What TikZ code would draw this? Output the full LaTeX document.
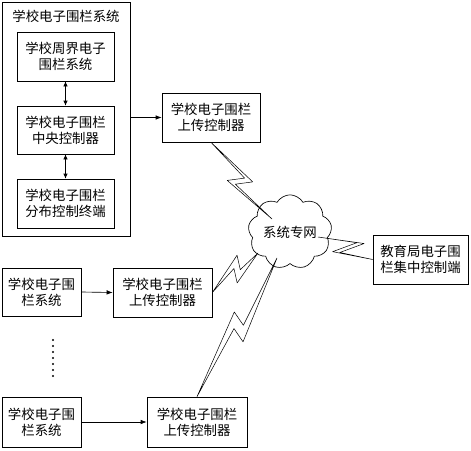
\documentclass[tikz,border=0pt]{standalone}
\usepackage{fontspec}
\setmainfont{Noto Sans CJK SC}
\usetikzlibrary{shapes.symbols,calc,arrows.meta}
\tikzset{
  lbl/.style={font=\fontsize{13.4pt}{16pt}\selectfont, align=center, inner sep=0pt},
  box/.style={lbl, draw, line width=0.65pt},
  arr/.style={line width=0.65pt, -{Latex[length=6pt,width=4.5pt]}},
  darr/.style={line width=0.65pt, {Latex[length=5pt,width=4.5pt]}-{Latex[length=5pt,width=4.5pt]}},
  boltst/.style={draw, line width=0.5pt, line join=round},
}
% lightning connector: #1 start, #2 end, A=(#3,#4), B=(#5,#6), shift (#7,#8)
\newcommand\zbolt[8]{%
  \draw[boltst] let \p1=(#1), \p2=(#2), \p3=($(#2)-(#1)$), \n1={veclen(\x3,\y3)} in
    (\p1)
    -- ({\x1+(#3)*\x3/\n1-(#4)*\y3/\n1},{\y1+(#3)*\y3/\n1+(#4)*\x3/\n1})
    -- ({\x1+(#5)*\x3/\n1-(#6)*\y3/\n1},{\y1+(#5)*\y3/\n1+(#6)*\x3/\n1})
    -- (\p2)
    -- ({\x1+((#5)+(#7))*\x3/\n1-((#6)+(#8))*\y3/\n1},{\y1+((#5)+(#7))*\y3/\n1+((#6)+(#8))*\x3/\n1})
    -- ({\x1+((#3)+(#7))*\x3/\n1-((#4)+(#8))*\y3/\n1},{\y1+((#3)+(#7))*\y3/\n1+((#4)+(#8))*\x3/\n1})
    -- cycle;}
\begin{document}
\begin{tikzpicture}[x=1pt,y=-1pt]
\useasboundingbox (0,0) rectangle (471,450);
% school system (outer)
\node[box, minimum width=128pt, minimum height=234pt] (outer) at (66,119) {};
\node[lbl] (title) at (66,16) {学校电子围栏系统};
\node[box, minimum width=97pt, minimum height=49pt] (in1) at (65.5,56.5) {学校周界电子\\围栏系统};
\node[box, minimum width=97pt, minimum height=48pt] (in2) at (65.5,130) {学校电子围栏\\中央控制器};
\node[box, minimum width=97pt, minimum height=49pt] (in3) at (65.5,203.5) {学校电子围栏\\分布控制终端};
\node[box, minimum width=98pt, minimum height=49pt] (up1) at (211,117.5) {学校电子围栏\\上传控制器};
% network
\node[lbl, cloud, draw, line width=0.65pt, cloud puffs=9, cloud puff arc=120, aspect=1.2,
      minimum width=78pt, minimum height=64pt] (net) at (290,232) {系统专网};
\node[box, minimum width=95pt, minimum height=49pt] (edu) at (420.5,259.5) {教育局电子围\\栏集中控制端};
% other schools
\node[box, minimum width=79pt, minimum height=48pt] (sysA) at (41.5,292) {学校电子围\\栏系统};
\node[box, minimum width=99pt, minimum height=49pt] (up2) at (162.5,292.5) {学校电子围栏\\上传控制器};
\node[box, minimum width=79pt, minimum height=50pt] (sysB) at (41.5,422) {学校电子围\\栏系统};
\node[box, minimum width=100pt, minimum height=50pt] (up3) at (197,422) {学校电子围栏\\上传控制器};
\foreach \k in {0,...,6} \fill (53,{340+6*\k}) circle (1.1pt);
% arrows
\draw[darr] (in1.south) -- (in2.north);
\draw[darr] (in2.south) -- (in3.north);
\draw[arr] (up1.west -| outer.east) -- (up1.west);
\draw[arr] (sysA.east) -- (up2.west);
\draw[arr] (sysB.east) -- (up3.west);
% bolt end points on the cloud
\coordinate (n1) at ($(net.center)+(-18,-13)$);
\coordinate (n2) at ($(net.center)+(-32,21)$);
\coordinate (n3) at ($(net.center)+(-13,26)$);
\coordinate (n4) at ($(net.center)+(28,5)$);
% lightning links
\zbolt{n1}{up1.south}{58}{11}{49}{-4}{-8}{-4}
\zbolt{up2.east}{n2}{43}{12}{36}{-1}{-11}{-8}
\zbolt{up3.north}{n3}{92}{10}{85}{-4.5}{-14.5}{-8}
\zbolt{edu.west}{n4}{40}{8}{21}{-9.5}{-7}{-2}
\end{tikzpicture}
\end{document}
